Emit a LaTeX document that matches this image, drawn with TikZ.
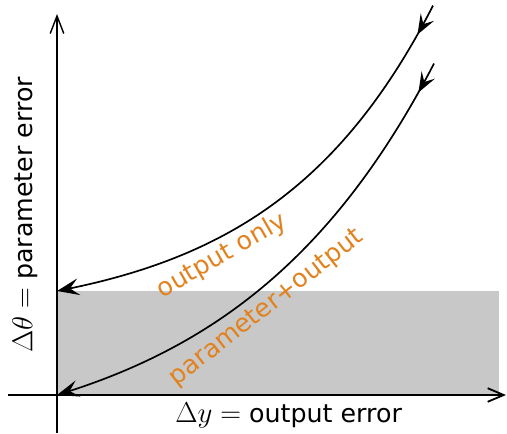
\RequirePackage{fix-cm}
\documentclass[tikz,border=0pt]{standalone}
\usepackage{fontspec}
\setsansfont{DejaVu Sans}
\DeclareMathSizes{18}{20.5}{14}{10}
\usepackage{tikz}
\usetikzlibrary{arrows.meta, decorations.markings}
\definecolor{boxgray}{RGB}{200,200,200}
\definecolor{tagorange}{RGB}{225,130,30}
\tikzset{
    flow/.style={line width=1.2pt, -{Stealth[length=5.5mm, width=4.2mm, inset=2.2mm]},
        postaction={decorate}, decoration={markings,
        mark=at position #1 with {\arrow{Stealth[length=5mm, width=3.8mm, inset=2mm]}}}},
    tag/.style={text=tagorange, inner sep=1pt}
}

\begin{document}
\begin{tikzpicture}[font=\sffamily\fontsize{18}{22}\selectfont]
    \useasboundingbox (-1.425,-0.95) rectangle (11.25,9.875);

    % Acceptable region
    \fill[boxgray] (0,0) rectangle (11.05,2.6);

    % Axes
    \draw[line width=1.3pt, -{Straight Barb[length=4mm, width=3.4mm]}] (-1.225,0) -- (11.225,0);
    \draw[line width=1pt, -{Straight Barb[length=4.4mm, width=3.4mm]}] (0,-0.95) -- (0,9.525);
    \node (xlab) at (5.79,-0.5) {$\Delta y =$ output error};
    \node[rotate=90] (ylab) at (-0.8,4.5) {$\Delta\theta =$ parameter error};

    % Descent paths
    \draw[flow=0.82cm] plot[domain=9.4:0, samples=80] (\x, {2.6+0.772*(exp(0.2475*\x)-1)});
    \draw[flow=0.82cm] plot[domain=9.425:0, samples=80] (\x, {1.551*(exp(0.196*\x)-1)});

    \node[tag, rotate=30] (only) at (4.125,3.475) {output only};
    \node[tag, rotate=38] (both) at (5.25,2.175) {parameter+output};
\end{tikzpicture}
\end{document}
